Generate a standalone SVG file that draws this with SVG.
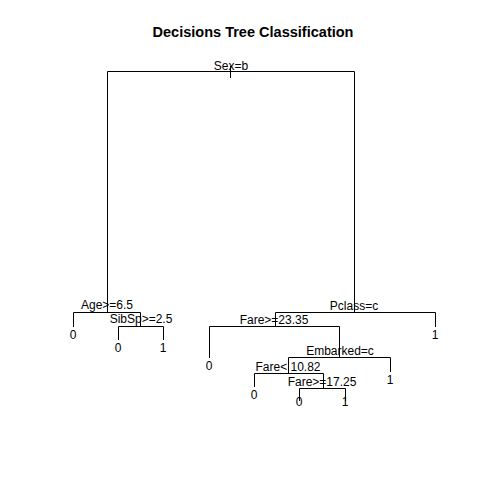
<svg xmlns="http://www.w3.org/2000/svg" width="480" height="480" viewBox="0 0 480 480">
<style>
.l{stroke:#000;stroke-width:1;fill:none}
text{font-family:"Liberation Sans",Arial,sans-serif;font-size:12px;fill:#000;text-anchor:middle}
.t{font-weight:bold;font-size:14px}
</style>
<rect width="480" height="480" fill="#fff"/>
<text class="t" x="253" y="37" textLength="201" lengthAdjust="spacingAndGlyphs">Decisions Tree Classification</text>
<g id="connectors" class="l">
<path d="M230.5,66V78"/>
<path d="M107.5,312V71.5H354.5V312"/>
<path d="M73.5,327V312.5H140.5V326"/>
<path d="M118.5,340V326.5H163.5V340"/>
<path d="M275.5,326V312.5H435.5V327"/>
<path d="M209.5,358V326.5H339.5V357"/>
<path d="M288.5,373V357.5H390.5V372"/>
<path d="M254.5,387V373.5H323.5V388"/>
<path d="M299.5,401V388.5H345.5V401"/>
</g>
<g id="n-sex"><text x="231" y="70">Sex=b</text></g>
<g id="n-age"><text x="107" y="309">Age&gt;=6.5</text></g>
<g id="n-sibsp"><text x="141" y="323">SibSp&gt;=2.5</text></g>
<g id="n-pclass"><text x="354" y="310">Pclass=c</text></g>
<g id="n-fare1"><text x="274" y="324">Fare&gt;=23.35</text></g>
<g id="n-emb"><text x="340" y="355">Embarked=c</text></g>
<g id="n-fare2"><text x="288" y="371">Fare&lt; 10.82</text></g>
<g id="n-fare3"><text x="322" y="386">Fare&gt;=17.25</text></g>
<g id="leaf1"><text x="73" y="339">0</text></g>
<g id="leaf2"><text x="118" y="352">0</text></g>
<g id="leaf3"><text x="163" y="352">1</text></g>
<g id="leaf4"><text x="435" y="339">1</text></g>
<g id="leaf5"><text x="209" y="370">0</text></g>
<g id="leaf6"><text x="390" y="384">1</text></g>
<g id="leaf7"><text x="254" y="399">0</text></g>
<g id="leaf8"><text x="299" y="406">0</text></g>
<g id="leaf9"><text x="345" y="406">1</text></g>
</svg>
